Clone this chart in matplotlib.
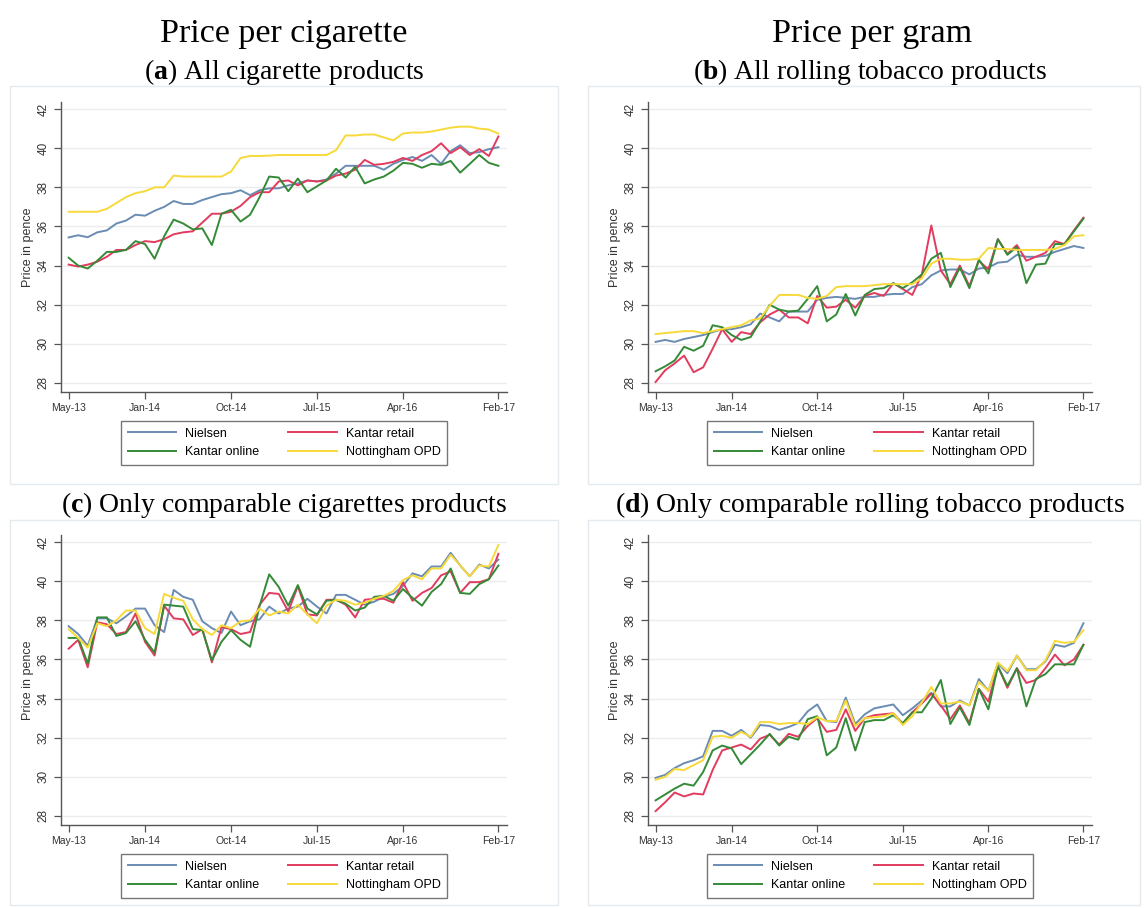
import numpy as np
import matplotlib
matplotlib.use("Agg")
import matplotlib.pyplot as plt
from matplotlib.patches import Rectangle

plt.rcParams['font.family'] = ['Liberation Sans', 'DejaVu Sans']
plt.rcParams['mathtext.fontset'] = 'custom'
plt.rcParams['mathtext.rm'] = 'Liberation Serif'
plt.rcParams['mathtext.bf'] = 'Liberation Serif:bold'

# monthly series, May-13 .. Feb-17 (46 months)
tick_pos = [0, 8, 17, 26, 35, 45]
tick_labels = ["May-13", "Jan-14", "Oct-14", "Jul-15", "Apr-16", "Feb-17"]
series_names = ["Nielsen", "Kantar retail", "Kantar online", "Nottingham OPD"]
series_colors = ["#6a8cb3", "#e23b5e", "#348a37", "#f7d93a"]

# (a) all cigarette products
a_nielsen = [35.44, 35.55, 35.45, 35.7, 35.8, 36.15, 36.3, 36.6, 36.55, 36.8, 37.0, 37.3, 37.15, 37.15, 37.35, 37.5,
             37.65, 37.7, 37.85, 37.6, 37.85, 37.95, 37.95, 38.1, 38.2, 38.35, 38.3, 38.4, 38.7, 39.1, 39.1, 39.1,
             39.1, 38.9, 39.2, 39.4, 39.55, 39.35, 39.65, 39.2, 39.85, 40.15, 39.75, 39.8, 39.95, 40.05]
a_retail = [34.05, 33.95, 34.05, 34.2, 34.45, 34.8, 34.8, 35.05, 35.25, 35.2, 35.35, 35.6, 35.7, 35.75, 36.2, 36.65,
            36.65, 36.75, 37.05, 37.5, 37.75, 37.75, 38.3, 38.35, 38.1, 38.35, 38.3, 38.35, 38.6, 38.7, 38.9, 39.4,
            39.15, 39.2, 39.3, 39.5, 39.35, 39.65, 39.85, 40.25, 39.75, 40.05, 39.65, 39.95, 39.6, 40.6]
a_online = [34.4, 34.0, 33.85, 34.25, 34.7, 34.7, 34.8, 35.25, 35.1, 34.35, 35.5, 36.35, 36.15, 35.85, 35.9, 35.05,
            36.65, 36.85, 36.25, 36.6, 37.5, 38.55, 38.5, 37.8, 38.45, 37.75, 38.05, 38.35, 38.95, 38.5, 39.05, 38.2,
            38.4, 38.55, 38.85, 39.25, 39.2, 39.0, 39.2, 39.15, 39.35, 38.75, 39.2, 39.65, 39.25, 39.1]
a_opd = [36.75, 36.75, 36.75, 36.75, 36.9, 37.2, 37.5, 37.7, 37.8, 38.0, 38.0, 38.6, 38.55, 38.55, 38.55, 38.55,
         38.55, 38.8, 39.5, 39.6, 39.6, 39.62, 39.65, 39.65, 39.65, 39.65, 39.65, 39.65, 39.9, 40.65, 40.65, 40.7,
         40.7, 40.55, 40.4, 40.75, 40.8, 40.8, 40.85, 40.95, 41.05, 41.1, 41.1, 41.0, 40.95, 40.75]

# (b) all rolling tobacco products
b_nielsen = [30.1, 30.2, 30.1, 30.25, 30.35, 30.45, 30.6, 30.75, 30.75, 30.85, 31.0, 31.55, 31.35, 31.15, 31.65, 31.65,
             31.65, 32.25, 32.35, 32.4, 32.35, 32.3, 32.4, 32.4, 32.5, 32.55, 32.55, 32.9, 33.05, 33.5, 33.75, 33.8,
             33.8, 33.55, 33.85, 33.9, 34.15, 34.2, 34.55, 34.45, 34.45, 34.5, 34.7, 34.85, 35.0, 34.9]
b_retail = [28.05, 28.65, 29.0, 29.4, 28.55, 28.8, 29.75, 30.75, 30.1, 30.6, 30.5, 31.1, 31.5, 31.75, 31.35, 31.35,
            31.05, 32.45, 31.85, 31.9, 32.25, 31.85, 32.45, 32.6, 32.45, 33.1, 32.8, 32.5, 33.55, 36.05, 33.75, 33.05,
            34.0, 32.95, 34.25, 33.8, 35.35, 34.6, 35.05, 34.25, 34.45, 34.65, 35.25, 35.1, 35.8, 36.45]
b_online = [28.6, 28.85, 29.15, 29.85, 29.65, 29.9, 30.95, 30.85, 30.45, 30.2, 30.35, 31.15, 32.0, 31.75, 31.65, 31.7,
            32.3, 32.95, 31.15, 31.5, 32.55, 31.45, 32.5, 32.8, 32.85, 33.1, 32.85, 33.15, 33.55, 34.35, 34.65, 32.9,
            33.9, 32.85, 34.3, 33.6, 35.35, 34.55, 34.95, 33.1, 34.05, 34.1, 35.1, 35.1, 35.75, 36.4]
b_opd = [30.5, 30.55, 30.6, 30.65, 30.65, 30.55, 30.65, 30.75, 30.85, 30.95, 31.2, 31.3, 31.95, 32.5, 32.5, 32.5,
         32.35, 32.3, 32.45, 32.9, 32.95, 32.95, 32.95, 33.0, 33.05, 33.05, 33.05, 33.05, 33.35, 34.1, 34.35, 34.35,
         34.3, 34.3, 34.35, 34.9, 34.85, 34.85, 34.8, 34.8, 34.8, 34.8, 34.85, 35.05, 35.5, 35.55]

# (c) only comparable cigarette products
c_nielsen = [37.7, 37.3, 36.7, 38.1, 38.1, 37.85, 38.2, 38.6, 38.6, 37.75, 37.4, 39.55, 39.2, 39.05, 37.95, 37.6,
             37.35, 38.45, 37.75, 37.95, 38.05, 38.7, 38.35, 38.6, 38.7, 39.1, 38.7, 38.35, 39.3, 39.3, 39.05, 38.8,
             38.95, 39.2, 39.35, 39.75, 40.4, 40.25, 40.75, 40.75, 41.45, 40.8, 40.25, 40.85, 40.65, 41.1]
c_retail = [36.55, 37.0, 35.6, 37.9, 37.8, 37.3, 37.4, 38.35, 36.9, 36.2, 38.75, 38.1, 38.05, 37.25, 37.55, 35.85,
            37.65, 37.55, 37.3, 37.4, 38.8, 39.4, 39.35, 38.45, 39.75, 38.3, 38.25, 39.05, 39.05, 38.8, 38.15, 39.05,
            39.1, 39.1, 38.9, 39.95, 39.0, 39.4, 39.65, 40.3, 40.5, 39.4, 39.95, 39.95, 40.1, 41.4]
c_online = [37.1, 37.1, 35.8, 38.15, 38.15, 37.2, 37.35, 37.95, 37.0, 36.35, 38.8, 38.75, 38.7, 37.55, 37.5, 35.95,
            36.9, 37.5, 37.0, 36.65, 38.75, 40.35, 39.7, 38.75, 39.8, 38.6, 38.3, 39.0, 39.05, 38.85, 38.5, 38.65,
            39.2, 39.25, 39.0, 39.6, 39.15, 38.75, 39.45, 39.85, 40.65, 39.4, 39.35, 39.85, 40.1, 40.8]
c_opd = [37.55, 37.1, 36.6, 37.85, 37.7, 38.0, 38.5, 38.5, 37.6, 37.3, 39.35, 39.15, 39.0, 38.05, 37.55, 37.25,
         37.75, 37.6, 37.95, 38.0, 38.6, 38.25, 38.45, 38.35, 38.8, 38.3, 37.85, 38.75, 39.05, 39.0, 38.8, 38.9,
         39.1, 39.25, 39.5, 40.05, 40.3, 40.1, 40.65, 40.65, 41.35, 40.8, 40.25, 40.8, 40.75, 41.85]

# (d) only comparable rolling tobacco products
d_nielsen = [29.95, 30.1, 30.45, 30.7, 30.85, 31.05, 32.35, 32.35, 32.1, 32.4, 32.0, 32.65, 32.6, 32.4, 32.55, 32.75,
             33.35, 33.7, 32.85, 32.8, 34.05, 32.7, 33.2, 33.5, 33.6, 33.7, 33.15, 33.5, 33.9, 34.3, 33.6, 33.6,
             33.9, 33.65, 35.0, 34.4, 35.8, 35.3, 36.2, 35.5, 35.5, 35.9, 36.75, 36.65, 36.85, 37.85]
d_retail = [28.25, 28.7, 29.2, 29.0, 29.15, 29.1, 30.35, 31.35, 31.5, 31.65, 31.4, 31.95, 32.15, 31.65, 32.2, 32.05,
            32.6, 33.0, 32.3, 32.4, 33.45, 32.35, 33.0, 33.15, 33.2, 33.25, 32.7, 33.3, 33.75, 34.25, 33.65, 32.95,
            33.65, 32.75, 34.5, 33.85, 35.65, 34.55, 35.55, 34.8, 34.95, 35.55, 36.25, 35.7, 36.0, 36.75]
d_online = [28.8, 29.1, 29.4, 29.65, 29.55, 30.25, 31.35, 31.6, 31.45, 30.65, 31.15, 31.65, 32.2, 31.6, 32.05, 31.9,
            32.95, 33.1, 31.1, 31.5, 33.0, 31.35, 32.8, 32.9, 32.9, 33.15, 32.75, 33.3, 33.3, 34.0, 34.95, 32.7,
            33.55, 32.65, 34.5, 33.45, 35.65, 34.65, 35.55, 33.6, 35.0, 35.25, 35.75, 35.75, 35.75, 36.75]
d_opd = [29.85, 30.0, 30.4, 30.35, 30.6, 30.85, 32.05, 32.1, 32.0, 32.3, 32.05, 32.8, 32.8, 32.7, 32.75, 32.75,
         32.7, 33.05, 32.85, 32.85, 33.9, 32.6, 33.0, 33.05, 33.1, 33.25, 32.65, 33.1, 33.8, 34.6, 33.75, 33.75,
         33.85, 33.65, 34.85, 34.4, 35.85, 35.4, 36.2, 35.45, 35.45, 35.95, 36.95, 36.85, 36.9, 37.5]

panels = [
    ([a_nielsen, a_retail, a_online, a_opd], r"($\mathbf{a}$) All cigarette products"),
    ([b_nielsen, b_retail, b_online, b_opd], r"($\mathbf{b}$) All rolling tobacco products"),
    ([c_nielsen, c_retail, c_online, c_opd], r"($\mathbf{c}$) Only comparable cigarettes products"),
    ([d_nielsen, d_retail, d_online, d_opd], r"($\mathbf{d}$) Only comparable rolling tobacco products"),
]

W, H = 1144, 908
fig = plt.figure(figsize=(W / 100, H / 100), dpi=100)


def px_box(left, top, right, bottom):
    return [left / W, 1 - bottom / H, (right - left) / W, (bottom - top) / H]


# layout in pixels: axes left, top, right, bottom, frame box, subtitle baseline, legend centre y
layout = [
    (61, 102, 507, 392, (10, 86, 558, 484), 79, 443),
    (648, 102, 1092, 392, (588, 86, 1140, 484), 79, 443),
    (61, 535, 507, 825, (10, 520, 558, 905), 512, 876),
    (648, 535, 1092, 825, (588, 520, 1140, 905), 512, 876),
]

for (series, subtitle), (l, t, r, b, frame, sub_y, leg_y) in zip(panels, layout):
    fl, ft, fr, fb = frame
    fig.patches.append(Rectangle((fl / W, 1 - fb / H), (fr - fl) / W, (fb - ft) / H,
                                 transform=fig.transFigure, fill=False,
                                 edgecolor="#e4eaed", lw=1.0))
    ax = fig.add_axes(px_box(l, t, r, b))
    x = np.arange(len(series[0]))
    lines = []
    for vals, name, col in zip(series, series_names, series_colors):
        ln, = ax.plot(x, vals, color=col, lw=1.4, label=name)
        lines.append(ln)
    ax.set_xlim(-0.8, 45.9)
    ax.set_ylim(27.54, 42.36)
    ax.set_yticks(range(28, 43, 2))
    ax.set_xticks(tick_pos)
    ax.set_xticklabels(tick_labels, fontsize=7.5, color="#333333")
    ax.set_yticklabels([str(v) for v in range(28, 43, 2)], fontsize=8.5, rotation=90,
                       va="center", color="#333333")
    ax.grid(axis="y", color="#ececec", lw=1.0)
    ax.set_axisbelow(True)
    for side in ("top", "right"):
        ax.spines[side].set_visible(False)
    for side in ("left", "bottom"):
        ax.spines[side].set_color("#555555")
        ax.spines[side].set_linewidth(1.0)
    ax.tick_params(length=5, width=0.9, color="#555555", pad=3)
    ax.set_ylabel("Price in pence", fontsize=9, color="#333333", labelpad=3)
    cx = (l + r) / 2
    # legend fills row by row: Nielsen, Kantar retail / Kantar online, Nottingham OPD
    order = [0, 2, 1, 3]
    leg = ax.legend([lines[k] for k in order], [series_names[k] for k in order],
                    ncol=2, loc="center",
                    bbox_to_anchor=((cx - l) / (r - l), -(leg_y - b) / (b - t)),
                    fontsize=9, frameon=True, fancybox=False, edgecolor="#555555",
                    handlelength=3.9, handletextpad=0.7, columnspacing=2.3,
                    labelspacing=0.55, borderpad=0.5)
    leg.get_frame().set_linewidth(1.0)
    fig.text(cx / W, 1 - sub_y / H, subtitle, ha="center", va="baseline",
             fontsize=20, family="Liberation Serif")

fig.text(284 / W, 1 - 42 / H, "Price per cigarette", ha="center", va="baseline",
         fontsize=24.5, family="Liberation Serif")
fig.text(872 / W, 1 - 42 / H, "Price per gram", ha="center", va="baseline",
         fontsize=24.5, family="Liberation Serif")

fig.savefig("out.png", dpi=100)
